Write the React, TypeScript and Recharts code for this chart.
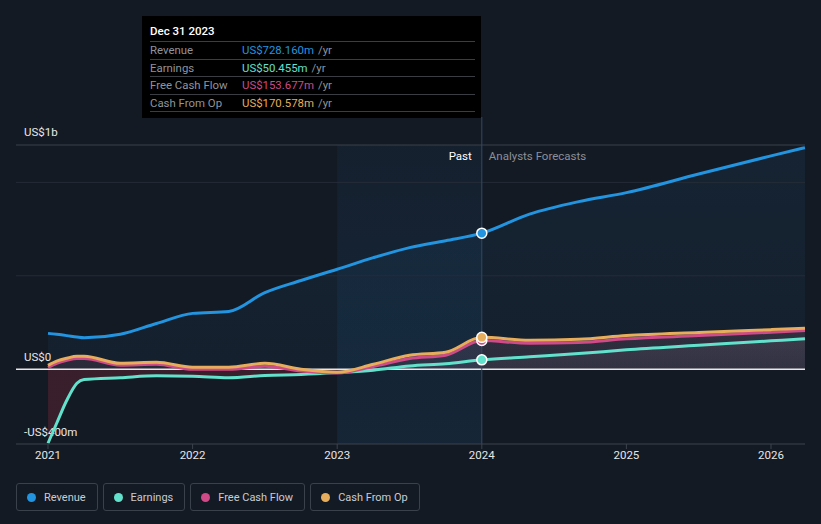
import React from "react";
import {
  ComposedChart,
  Area,
  Line,
  XAxis,
  YAxis,
  ReferenceLine,
  ReferenceArea,
} from "recharts";

// ---- data (US$ millions, time in fractional years) ----
const TIMES = [2021.0, 2021.06, 2021.13, 2021.2, 2021.25, 2021.5, 2021.75, 2022.0, 2022.25, 2022.5, 2022.75, 2023.0, 2023.25, 2023.5, 2023.75, 2024.0, 2024.33, 2024.67, 2025.0, 2025.5, 2026.0, 2026.235];
const REVENUE = [192, 187, 180, 172, 168, 187, 245, 299, 309, 410, 475, 535, 597, 651, 688, 728.16, 830, 897, 945, 1045, 1142, 1186];
const EARNINGS = [-396, -289, -166, -75, -55, -45, -35, -37, -45, -33, -28, -18, -5, 18, 30, 50.455, 67, 84, 104, 128, 152, 163];
const FCF = [10, 32, 48, 58, 58, 22, 27, 0, 0, 16, -10, -20, 15, 58, 75, 153.677, 139, 143, 163, 180, 198, 208];
const CFO = [21, 43, 59, 70, 70, 32, 37, 11, 11, 32, 0, -16, 27, 75, 91, 170.578, 155, 160, 180, 197, 212, 219];

const YEAR_TICKS = [2021, 2022, 2023, 2024, 2025, 2026];
const X_DOMAIN = [2020.7787, 2026.2351];
const Y_DOMAIN = [-400, 1200];
const GRID_VALUES = [1000, 500];
const HIGHLIGHT_DATE = 2024;
const PAST_START = 2023;

const TOOLTIP_TITLE = "Dec 31 2023";
const TOOLTIP_ROWS = [
  { label: "Revenue", value: "US$728.160m", color: "#2394df" },
  { label: "Earnings", value: "US$50.455m", color: "#62e1cc" },
  { label: "Free Cash Flow", value: "US$153.677m", color: "#cf4a86" },
  { label: "Cash From Op", value: "US$170.578m", color: "#e6ad5c" },
];

const SERIES = [
  { key: "revenue", name: "Revenue", color: "#2394df" },
  { key: "earnings", name: "Earnings", color: "#62e1cc" },
  { key: "fcf", name: "Free Cash Flow", color: "#cf4a86" },
  { key: "cfo", name: "Cash From Op", color: "#e6ad5c" },
];

const data = TIMES.map((t, i) => ({
  t,
  revenue: REVENUE[i],
  earnings: EARNINGS[i],
  fcf: FCF[i],
  cfo: CFO[i],
}));

const eMax = Math.max(0, ...EARNINGS);
const eMin = Math.min(0, ...EARNINGS);
const eSplit = eMax / (eMax - eMin);

const FONT = "Roboto, 'Noto Sans', sans-serif";
const BG = "#141a24";
const FS = 11.5;

const makeDot = (color: string) => (props: any) => {
  const { cx, cy, payload, index } = props;
  if (!payload || payload.t !== HIGHLIGHT_DATE || cx == null) return <g key={`d${index}`} />;
  return <circle key={`d${index}`} cx={cx} cy={cy} r={5} fill={color} stroke="#ffffff" strokeWidth={1.5} />;
};

const yLabel = (text: string, dy: number) => (p: any) => {
  const vb = p.viewBox || {};
  return (
    <text x={(vb.x || 0) + 8} y={(vb.y || 0) + dy} fill="#e8e8e8" fontSize={FS} fontFamily={FONT}>
      {text}
    </text>
  );
};

const pastLabel = (p: any) => {
  const vb = p.viewBox || {};
  return (
    <g>
      <text x={vb.x - 10} y={vb.y + 15} fill="#ffffff" fontSize={FS} fontFamily={FONT} textAnchor="end">
        Past
      </text>
      <text x={vb.x + 7} y={vb.y + 15} fill="#8a9099" fontSize={FS} fontFamily={FONT}>
        Analysts Forecasts
      </text>
    </g>
  );
};

export default function App() {
  return (
    <div
      style={{
        position: "absolute",
        left: 0,
        top: 0,
        width: 821,
        height: 524,
        background: BG,
        fontFamily: FONT,
        overflow: "hidden",
      }}
    >
      <ComposedChart
        width={821}
        height={524}
        data={data}
        margin={{ top: 145, right: 16, bottom: 50, left: 16 }}
      >
        <defs>
          <linearGradient id="revGrad" x1="0" y1="0" x2="0" y2="1">
            <stop offset="0%" stopColor="#2394df" stopOpacity={0.13} />
            <stop offset="100%" stopColor="#2394df" stopOpacity={0.08} />
          </linearGradient>
          <linearGradient id="pastGrad" x1="0" y1="0" x2="0" y2="1">
            <stop offset="0%" stopColor="#238ce0" stopOpacity={0.11} />
            <stop offset="100%" stopColor="#238ce0" stopOpacity={0.2} />
          </linearGradient>
          <linearGradient id="earnGrad" x1="0" y1="0" x2="0" y2="1">
            <stop offset="0%" stopColor="#b4b4be" stopOpacity={0.16} />
            <stop offset={eSplit} stopColor="#b4b4be" stopOpacity={0.1} />
            <stop offset={eSplit} stopColor="#8c2a3c" stopOpacity={0.5} />
            <stop offset="100%" stopColor="#8c2a3c" stopOpacity={0.5} />
          </linearGradient>
          <linearGradient id="cfoGrad" x1="0" y1="0" x2="0" y2="1">
            <stop offset="0%" stopColor="#c8bcc8" stopOpacity={0.14} />
            <stop offset="100%" stopColor="#c8bcc8" stopOpacity={0.08} />
          </linearGradient>
        </defs>

        <XAxis
          dataKey="t"
          type="number"
          domain={X_DOMAIN}
          ticks={YEAR_TICKS}
          tickFormatter={(v: number) => String(Math.round(v))}
          allowDataOverflow
          height={30}
          axisLine={{ stroke: "#3d434d" }}
          tickLine={{ stroke: "#3d434d" }}
          tickSize={5}
          tick={{ fill: "#e6e6e6", fontSize: FS, fontFamily: FONT }}
        />
        <YAxis hide type="number" domain={Y_DOMAIN} allowDataOverflow />

        <ReferenceArea x1={PAST_START} x2={HIGHLIGHT_DATE} y1={Y_DOMAIN[0]} y2={Y_DOMAIN[1]} fill="url(#pastGrad)" stroke="none" />

        {GRID_VALUES.map((v) => (
          <ReferenceLine key={v} y={v} stroke="#252c37" strokeWidth={1} />
        ))}
        <ReferenceLine y={Y_DOMAIN[1]} stroke="#3b414b" strokeWidth={1} label={yLabel("US$1b", -9)} />

        <Area type="monotone" dataKey="revenue" stroke="none" fill="url(#revGrad)" baseValue={0} isAnimationActive={false} />
        <Area type="monotone" dataKey="earnings" stroke="none" fill="url(#earnGrad)" baseValue={0} isAnimationActive={false} />
        <Area type="monotone" dataKey="fcf" stroke="none" fill="#cf4a86" fillOpacity={0.07} baseValue={0} isAnimationActive={false} />
        <Area type="monotone" dataKey="cfo" stroke="none" fill="url(#cfoGrad)" baseValue={0} isAnimationActive={false} />

        <ReferenceLine y={0} stroke="#e8e8e8" strokeWidth={1.5} label={yLabel("US$0", -8)} />
        <ReferenceLine y={Y_DOMAIN[0]} stroke="none" label={yLabel("-US$400m", -8)} />

        <ReferenceLine
          segment={[
            { x: HIGHLIGHT_DATE, y: Y_DOMAIN[0] },
            { x: HIGHLIGHT_DATE, y: 1350 },
          ]}
          ifOverflow="visible"
          stroke="#2f4a64"
          strokeWidth={1}
        />
        <ReferenceLine x={HIGHLIGHT_DATE} stroke="none" label={pastLabel} />

        {SERIES.map((s) => (
          <Line
            key={s.key}
            type="monotone"
            dataKey={s.key}
            stroke={s.color}
            strokeWidth={3}
            dot={makeDot(s.color)}
            activeDot={false}
            isAnimationActive={false}
          />
        ))}
      </ComposedChart>

      {/* static tooltip */}
      <div
        style={{
          position: "absolute",
          left: 142,
          top: 16,
          width: 339,
          height: 102,
          background: "#000000",
          boxSizing: "border-box",
          padding: "0 6px 0 8px",
        }}
      >
        <div style={{ color: "#ffffff", fontSize: FS, fontWeight: 500, height: 25, lineHeight: "31px" }}>{TOOLTIP_TITLE}</div>
        {TOOLTIP_ROWS.map((r) => (
          <div
            key={r.label}
            style={{
              borderTop: "1px solid #3a3d43",
              height: 16.5,
              lineHeight: "16.5px",
              fontSize: 11.4,
              display: "flex",
              whiteSpace: "nowrap",
            }}
          >
            <span style={{ color: "#8f949c", width: 92, display: "inline-block" }}>{r.label}</span>
            <span style={{ color: r.color }}>{r.value}</span>
            <span style={{ color: "#8f949c", marginLeft: 4 }}>/yr</span>
          </div>
        ))}
        <div style={{ borderTop: "1px solid #3a3d43" }} />
      </div>

      {/* legend */}
      <div style={{ position: "absolute", left: 16, top: 483, display: "flex", gap: 5 }}>
        {SERIES.map((s) => (
          <div
            key={s.key}
            style={{
              height: 28,
              boxSizing: "border-box",
              border: "1px solid #3b414b",
              borderRadius: 3,
              display: "flex",
              alignItems: "center",
              padding: "0 11px 0 10px",
              color: "#c9ccd2",
              fontSize: 11,
            }}
          >
            <span
              style={{
                width: 9,
                height: 9,
                borderRadius: "50%",
                background: s.color,
                display: "inline-block",
                marginRight: 8,
              }}
            />
            {s.name}
          </div>
        ))}
      </div>
    </div>
  );
}
